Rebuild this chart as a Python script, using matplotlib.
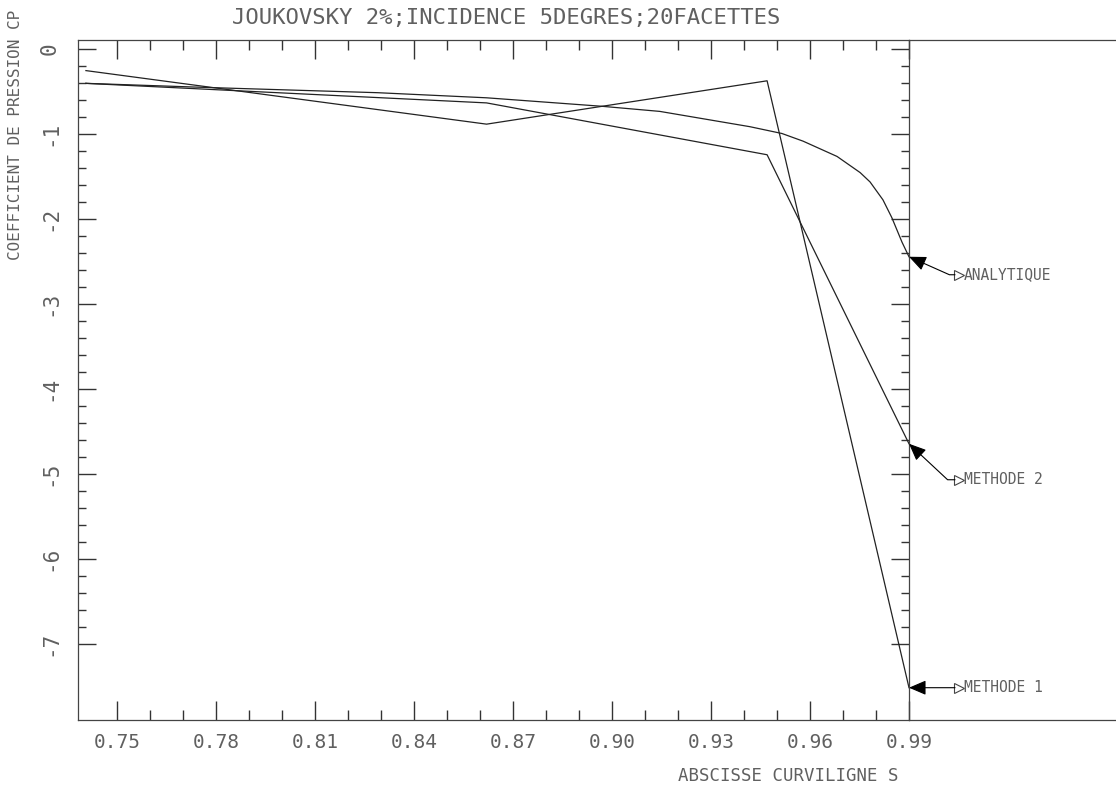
import matplotlib
matplotlib.use("Agg")
import matplotlib.pyplot as plt
from matplotlib.ticker import FixedLocator
from matplotlib.lines import Line2D
from matplotlib.transforms import offset_copy

# Data
s_analytique = [0.7406, 0.7785, 0.829, 0.862, 0.897, 0.9145, 0.9418, 0.9515,
                0.9579, 0.9682, 0.9752, 0.9782, 0.9821, 0.9848, 0.9879, 0.99]
cp_analytique = [-0.41, -0.46, -0.52, -0.58, -0.68, -0.74, -0.92, -1.00,
                 -1.09, -1.27, -1.46, -1.57, -1.78, -1.99, -2.28, -2.45]

s_methode1 = [0.7406, 0.862, 0.947, 0.99]
cp_methode1 = [-0.26, -0.89, -0.38, -7.52]

s_methode2 = [0.7406, 0.862, 0.947, 0.99]
cp_methode2 = [-0.41, -0.64, -1.25, -4.65]

x_ticks = [0.75, 0.78, 0.81, 0.84, 0.87, 0.90, 0.93, 0.96, 0.99]
x_labels = ["0.75", "0.78", "0.81", "0.84", "0.87", "0.90", "0.93", "0.96", "0.99"]
y_ticks = [0, -1, -2, -3, -4, -5, -6, -7]
y_labels = ["0", "-1", "-2", "-3", "-4", "-5", "-6", "-7"]

FONT = "DejaVu Sans Mono"
TXT = "#606060"
INK = "#222222"

W, H = 1116, 789
fig = plt.figure(figsize=(W / 100, H / 100), dpi=100)
fig.patch.set_facecolor("white")
ax = fig.add_axes([78 / W, 1 - 720 / H, (909 - 78) / W, (720 - 40) / H])

# curves
ax.plot(s_analytique, cp_analytique, color=INK, lw=0.9, clip_on=False)
ax.plot(s_methode1, cp_methode1, color=INK, lw=0.9, clip_on=False)
ax.plot(s_methode2, cp_methode2, color=INK, lw=0.9, clip_on=False)

ax.set_xlim(0.7382, 0.99)
ax.set_ylim(-7.9, 0.1)

# minor ticks only between the first and last major ticks
x_minor = [0.75 + k * 0.01 for k in range(25) if k % 3]
y_minor = [-k * 0.2 for k in range(36) if k % 5]

ax.xaxis.set_major_locator(FixedLocator(x_ticks))
ax.xaxis.set_minor_locator(FixedLocator(x_minor))
ax.yaxis.set_major_locator(FixedLocator(y_ticks))
ax.yaxis.set_minor_locator(FixedLocator(y_minor))
ax.set_xticklabels(x_labels, fontfamily=FONT, fontsize=14, color=TXT)
ax.set_yticklabels(y_labels, fontfamily=FONT, fontsize=15, color=TXT,
                   rotation=90, va="center")

ax.tick_params(which="both", direction="in", top=True, right=True,
               color="#333333", width=1.0)
ax.tick_params(axis="x", which="major", length=14, pad=9)
ax.tick_params(axis="x", which="minor", length=7)
ax.tick_params(axis="y", which="major", length=13, pad=13)
ax.tick_params(axis="y", which="minor", length=6)

for sp in ax.spines.values():
    sp.set_color("#444444")
    sp.set_linewidth(0.9)

# outer frame continues to the right edge
x0 = 909 / W
for yy in (1 - 40 / H, 1 - 720 / H):
    fig.add_artist(Line2D([x0, 1.0], [yy, yy], transform=fig.transFigure,
                          color="#444444", lw=0.9))

# labels at the end of each curve
names = ["ANALYTIQUE", "METHODE 2", "METHODE 1"]
ends = [(s_analytique[-1], cp_analytique[-1]),
        (s_methode2[-1], cp_methode2[-1]),
        (s_methode1[-1], cp_methode1[-1])]
dys = [-18, -36, 0]
angles = [-24, -43, None]

for name, (xe, ye), dy, ang in zip(names, ends, dys, angles):
    if ang is None:
        cs = "arc3"
    else:
        cs = "angle,angleA=0,angleB=%d,rad=0" % ang
    ax.annotate("", xy=(xe, ye), xytext=(46, dy), textcoords="offset pixels",
                annotation_clip=False,
                arrowprops=dict(arrowstyle="-|>,head_length=1.05,head_width=0.45",
                                color="black", lw=0.8, shrinkA=0, shrinkB=0,
                                connectionstyle=cs))
    ax.plot([xe], [ye], marker=">", ms=7.5, mfc="white", mec="#444444", mew=0.8,
            transform=offset_copy(ax.transData, fig=fig, x=50, y=dy, units="dots"),
            clip_on=False)
    ax.annotate(name, xy=(xe, ye), xytext=(55, dy), textcoords="offset pixels",
                ha="left", va="center", fontfamily=FONT, fontsize=10.5,
                color=TXT, annotation_clip=False)

fig.text(506 / W, 1 - 18 / H, "JOUKOVSKY 2%;INCIDENCE 5DEGRES;20FACETTES",
         ha="center", va="center", fontfamily=FONT, fontsize=16, color=TXT)
fig.text(16 / W, 1 - 10 / H, "COEFFICIENT DE PRESSION CP", rotation=90,
         ha="center", va="top", fontfamily=FONT, fontsize=11.5, color=TXT)
fig.text(788 / W, 1 - 776 / H, "ABSCISSE CURVILIGNE S",
         ha="center", va="center", fontfamily=FONT, fontsize=12.5, color=TXT)

fig.savefig("out.png", dpi=100)
